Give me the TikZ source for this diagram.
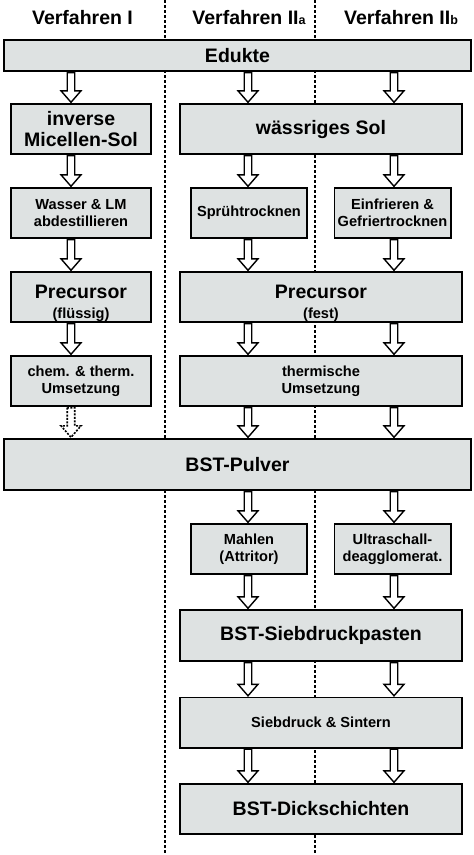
\documentclass[tikz,border=0pt]{standalone}
\usepackage{fontspec}
\setmainfont{Liberation Sans}
\usetikzlibrary{calc}
\usetikzlibrary{backgrounds}
\definecolor{boxgrey}{RGB}{222,226,226}
\newcommand{\bigtxt}{\fontsize{19.5}{21.5}\selectfont}
\newcommand{\medtxt}{\fontsize{14.6}{17}\selectfont}
\newcommand{\subtxt}{\fontsize{12.5}{12.5}\selectfont}

\begin{document}
\begin{tikzpicture}[x=1pt,y=-1pt,
	bx/.style={draw, line width=1.6pt, fill=boxgrey, inner sep=0pt, outer sep=0pt, align=center, minimum height=50.4pt},
	wide/.style={minimum width=282.4pt},
	narrow/.style={minimum width=140.4pt},
	small/.style={minimum width=116.4pt},
	bigf/.style={font=\bfseries\bigtxt},
	medf/.style={font=\bfseries\medtxt},
	sep/.style={line width=1.6pt, dash pattern=on 3pt off 2pt},
	hollow/.style={line width=1.4pt, fill=white, to path={let \p1=(\tikztostart), \p2=(\tikztotarget) in
		(\x1-3.75pt,\y1-1.5pt) -- (\x1-3.75pt,\y2+13pt) -- (\x1-10pt,\y2+13pt) -- (\x1,\y2+1.5pt) -- (\x1+10pt,\y2+13pt) -- (\x1+3.75pt,\y2+13pt) -- (\x1+3.75pt,\y1-1.5pt) -- cycle}}]
\useasboundingbox (0,0) rectangle (474,855);

% column separators
\draw[sep] (165,0) -- (165,855);
\draw[sep] (315,0) -- (315,855);

% arrow columns
\coordinate (c1) at (71,0);
\coordinate (c2) at (248,0);
\coordinate (c3) at (394,0);

% headings
\node (h1) at (82.5,17.7) [bigf] {Verfahren I};
\node (h2) at (249,17.7) [bigf] {Verfahren II{\subtxt a}};
\node (h3) at (401,17.7) [bigf] {Verfahren II{\subtxt b}};

\node (edu) at (237.5,55.5) [bx,bigf,minimum width=467.4pt,minimum height=31.4pt] {Edukte};
\node (inv) at (81,129) [bx,narrow,bigf] {inverse\\Micellen-Sol};
\node (sol) at (321,129) [bx,wide,bigf] {wässriges Sol};
\node (was) at (81,213) [bx,narrow,medf] {Wasser \& LM\\abdestillieren};
\node (spr) at (249,213) [bx,small,medf] {Sprühtrocknen};
\node (gef) at (392.5,213) [bx,small,medf] {Einfrieren \&\\Gefriertrocknen};
\node (prl) at (81,297) [bx,narrow,bigf] {\rule{0pt}{26pt}Precursor\\[-2pt]{\medtxt (flüssig)}};
\node (prf) at (321,297) [bx,wide,bigf] {\rule{0pt}{26pt}Precursor\\[-2pt]{\medtxt (fest)}};
\node (chm) at (81,381) [bx,narrow,medf] {chem. \& therm.\\Umsetzung};
\node (thm) at (321,381) [bx,wide,medf] {thermische\\Umsetzung};
\node (pul) at (237.5,464.5) [bx,bigf,minimum width=467.4pt,minimum height=51.4pt] {BST-Pulver};
\node (mah) at (249,549) [bx,small,medf] {Mahlen\\(Attritor)};
\node (ult) at (392.5,549) [bx,small,medf] {Ultraschall-\\deagglomerat.};
\node (pas) at (321,635.5) [bx,wide,bigf,minimum height=51.4pt] {BST-Siebdruckpasten};
\node (sin) at (321,722.5) [bx,wide,medf] {Siebdruck \& Sintern};
\node (dic) at (321,809) [bx,wide,bigf] {BST-Dickschichten};

\foreach \a/\b/\c in {edu/inv/c1, edu/sol/c2, edu/sol/c3, inv/was/c1, sol/spr/c2, sol/gef/c3,
	was/prl/c1, spr/prf/c2, gef/prf/c3, prl/chm/c1, prf/thm/c2, prf/thm/c3, thm/pul/c2, thm/pul/c3,
	pul/mah/c2, pul/ult/c3, mah/pas/c2, ult/pas/c3, pas/sin/c2, pas/sin/c3, sin/dic/c2, sin/dic/c3} {
\draw[hollow] (\a.south -| \c) to (\b.north -| \c);
}
\draw[hollow,line width=1.6pt,dash pattern=on 2pt off 1.4pt] (chm.south -| c1) to (pul.north -| c1);
\end{tikzpicture}
\end{document}
